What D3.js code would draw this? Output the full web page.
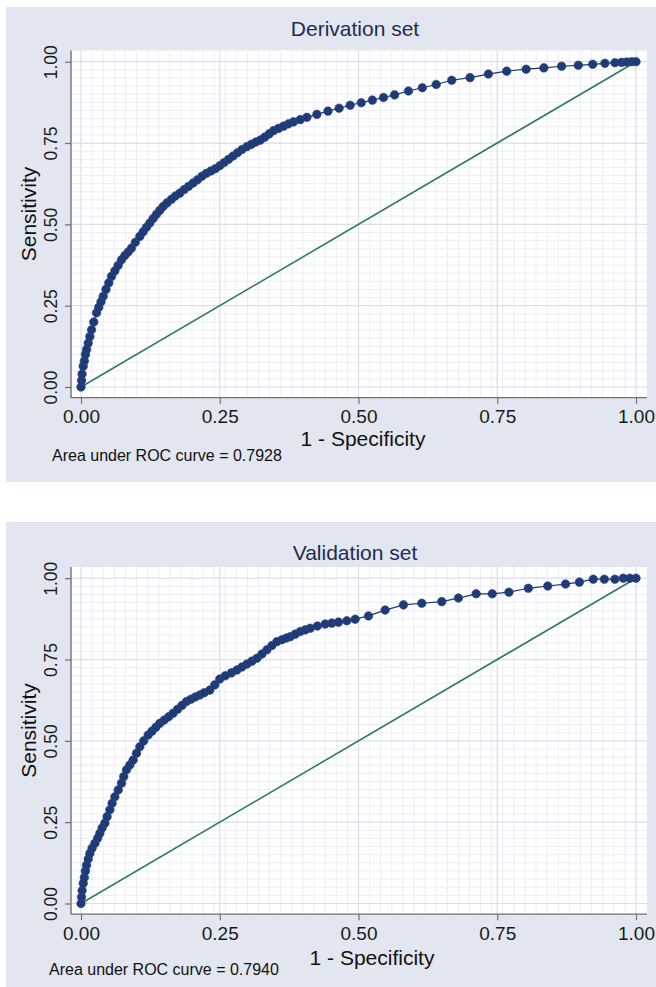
<!DOCTYPE html>
<html>
<head>
<meta charset="utf-8">
<script src="https://cdn.jsdelivr.net/npm/d3@7"></script>
<style>
	body { margin: 0; background: #fff; }
	svg { display: block; font-family: 'Liberation Sans', Arial, Helvetica, sans-serif; }
</style>
</head>
<body>
<div id="chart"></div>
<script>
const panelTitles = ['Derivation set', 'Validation set'];
const aucValues = ['0.7928', '0.7940'];
const tickValues = [0, 0.25, 0.5, 0.75, 1];
const tickLabels = ['0.00', '0.25', '0.50', '0.75', '1.00'];
const xTitle = '1 - Specificity';
const yTitle = 'Sensitivity';

// points (1 - specificity, sensitivity)
const derivationFpr = [0, 0.001, 0.002, 0.004, 0.006, 0.008, 0.010, 0.013, 0.016, 0.019, 0.023, 0.028, 0.032, 0.036, 0.040,
	0.045, 0.050, 0.055, 0.061, 0.067, 0.073, 0.079, 0.085, 0.091, 0.098, 0.106, 0.112, 0.118, 0.124, 0.130,
	0.136, 0.142, 0.148, 0.155, 0.163, 0.170, 0.178, 0.186, 0.194, 0.202, 0.210, 0.218, 0.226, 0.234, 0.242,
	0.250, 0.258, 0.266, 0.274, 0.282, 0.290, 0.299, 0.307, 0.315, 0.323, 0.331, 0.339, 0.347, 0.356, 0.365,
	0.374, 0.383, 0.395, 0.407, 0.425, 0.445, 0.465, 0.485, 0.505, 0.525, 0.545, 0.565, 0.590, 0.615, 0.640,
	0.668, 0.701, 0.734, 0.767, 0.802, 0.834, 0.866, 0.896, 0.922, 0.944, 0.962, 0.974, 0.983, 0.992, 1.0];
const derivationTpr = [0, 0.020, 0.040, 0.064, 0.080, 0.100, 0.115, 0.135, 0.155, 0.176, 0.200, 0.228, 0.245, 0.262, 0.279,
	0.300, 0.320, 0.340, 0.357, 0.374, 0.391, 0.404, 0.415, 0.427, 0.445, 0.463, 0.477, 0.491, 0.504, 0.518,
	0.531, 0.543, 0.555, 0.566, 0.577, 0.587, 0.596, 0.607, 0.617, 0.627, 0.637, 0.648, 0.657, 0.664, 0.671,
	0.680, 0.690, 0.700, 0.710, 0.720, 0.730, 0.739, 0.746, 0.753, 0.759, 0.768, 0.778, 0.788, 0.795, 0.802,
	0.809, 0.815, 0.822, 0.829, 0.838, 0.848, 0.857, 0.866, 0.874, 0.882, 0.890, 0.898, 0.910, 0.920, 0.930,
	0.943, 0.951, 0.962, 0.971, 0.977, 0.981, 0.986, 0.989, 0.992, 0.995, 0.997, 0.998, 0.999, 1.0, 1.0];

// points
const validationFpr = [0, 0.001, 0.002, 0.004, 0.006, 0.008, 0.010, 0.013, 0.016, 0.020, 0.025, 0.030, 0.034, 0.038, 0.043,
	0.047, 0.052, 0.056, 0.061, 0.067, 0.073, 0.077, 0.082, 0.088, 0.094, 0.100, 0.106, 0.113, 0.121, 0.128,
	0.135, 0.142, 0.150, 0.158, 0.166, 0.174, 0.182, 0.190, 0.198, 0.206, 0.214, 0.222, 0.232, 0.241, 0.250,
	0.260, 0.271, 0.281, 0.290, 0.299, 0.308, 0.317, 0.326, 0.335, 0.344, 0.353, 0.362, 0.370, 0.377, 0.386,
	0.395, 0.404, 0.413, 0.426, 0.440, 0.452, 0.464, 0.479, 0.494, 0.518, 0.548, 0.581, 0.614, 0.650, 0.680,
	0.712, 0.741, 0.771, 0.806, 0.841, 0.873, 0.898, 0.923, 0.943, 0.962, 0.977, 0.989, 1.0];
const validationTpr = [0, 0.020, 0.040, 0.062, 0.080, 0.100, 0.118, 0.137, 0.154, 0.170, 0.185, 0.201, 0.216, 0.232, 0.247,
	0.267, 0.288, 0.308, 0.328, 0.349, 0.370, 0.390, 0.411, 0.426, 0.441, 0.462, 0.482, 0.500, 0.518, 0.530,
	0.542, 0.554, 0.564, 0.574, 0.585, 0.597, 0.609, 0.621, 0.628, 0.635, 0.641, 0.648, 0.656, 0.672, 0.690,
	0.700, 0.709, 0.718, 0.727, 0.736, 0.745, 0.754, 0.767, 0.780, 0.793, 0.805, 0.811, 0.816, 0.820, 0.828,
	0.836, 0.841, 0.846, 0.853, 0.859, 0.862, 0.865, 0.869, 0.874, 0.884, 0.902, 0.918, 0.923, 0.928, 0.939,
	0.952, 0.952, 0.957, 0.969, 0.976, 0.982, 0.988, 0.997, 0.997, 0.997, 1.0, 1.0, 1.0];

const width = 656;
const height = 987;

const svg = d3
	.select('#chart')
	.append('svg')
	.attr('width', width)
	.attr('height', height)
	.attr('viewBox', `0 0 ${width} ${height}`);

// per panel placement, everything inside is relative to "top"
const panels = [
	{ top: 7, bgTop: 7, bgHeight: 475, titleY: 29, xTitleX: 363, xTitleY: 439, aucX: 52, aucY: 454, fpr: derivationFpr, tpr: derivationTpr },
	{ top: 523.5, bgTop: 522, bgHeight: 470, titleY: 36, xTitleX: 372, xTitleY: 441, aucX: 49, aucY: 451.5, fpr: validationFpr, tpr: validationTpr }
];

// plot region, in panel coordinates
const plot = { left: 72, right: 647, top: 43.5, bottom: 390.7 };

const xScale = d3.scaleLinear().domain([ 0, 1 ]).range([ 81, 636 ]);
const yScale = d3.scaleLinear().domain([ 0, 1 ]).range([ 380, 54.7 ]);

const minorX = d3.range(0, 1.0001, 0.02).filter((v) => !tickValues.some((t) => Math.abs(t - v) < 1e-6));
const minorY = d3.range(0, 1.0001, 0.025).filter((v) => !tickValues.some((t) => Math.abs(t - v) < 1e-6));

panels.forEach((p, idx) => {
	svg
		.append('rect')
		.attr('x', 6)
		.attr('y', p.bgTop)
		.attr('width', width - 6)
		.attr('height', p.bgHeight)
		.style('fill', '#e2e6f0');

	const g = svg.append('g').attr('transform', `translate(0, ${p.top})`);

	// white plot region
	g
		.append('rect')
		.attr('x', plot.left)
		.attr('y', plot.top)
		.attr('width', plot.right - plot.left)
		.attr('height', plot.bottom - plot.top)
		.style('fill', '#ffffff');

	// minor grid
	g
		.selectAll('.minor-x')
		.data(minorX)
		.enter()
		.append('line')
		.attr('x1', (d) => xScale(d))
		.attr('x2', (d) => xScale(d))
		.attr('y1', plot.top)
		.attr('y2', plot.bottom)
		.style('stroke', '#eceef6')
		.style('stroke-width', 1);

	g
		.selectAll('.minor-y')
		.data(minorY)
		.enter()
		.append('line')
		.attr('x1', plot.left)
		.attr('x2', plot.right)
		.attr('y1', (d) => yScale(d))
		.attr('y2', (d) => yScale(d))
		.style('stroke', '#eceef6')
		.style('stroke-width', 1);

	// major grid
	g
		.selectAll('.major-x')
		.data(tickValues)
		.enter()
		.append('line')
		.attr('x1', (d) => xScale(d))
		.attr('x2', (d) => xScale(d))
		.attr('y1', plot.top)
		.attr('y2', plot.bottom)
		.style('stroke', '#d9ddec')
		.style('stroke-width', 1.2);

	g
		.selectAll('.major-y')
		.data(tickValues)
		.enter()
		.append('line')
		.attr('x1', plot.left)
		.attr('x2', plot.right)
		.attr('y1', (d) => yScale(d))
		.attr('y2', (d) => yScale(d))
		.style('stroke', '#d9ddec')
		.style('stroke-width', 1.2);

	// reference diagonal
	g
		.append('line')
		.attr('x1', xScale(0))
		.attr('y1', yScale(0))
		.attr('x2', xScale(1))
		.attr('y2', yScale(1))
		.style('stroke', '#2f7b5c')
		.style('stroke-width', 1.6);

	const points = p.fpr.map((d, i) => ({ x: d, y: p.tpr[i] }));
	const line = d3.line().x((d) => xScale(d.x)).y((d) => yScale(d.y));

	g
		.append('path')
		.datum(points)
		.attr('d', line)
		.style('fill', 'none')
		.style('stroke', '#23345f')
		.style('stroke-width', 1.2);

	g
		.selectAll('.marker')
		.data(points)
		.enter()
		.append('circle')
		.attr('cx', (d) => xScale(d.x))
		.attr('cy', (d) => yScale(d.y))
		.attr('r', 4.3)
		.style('fill', '#1f3b77')
		.style('stroke', '#2c4782')
		.style('stroke-width', 0.6);

	// axes
	const xAxis = d3
		.axisBottom(xScale)
		.tickValues(tickValues)
		.tickFormat((d, i) => tickLabels[i])
		.tickSize(6)
		.tickPadding(6);

	const xAxisG = g.append('g').attr('transform', `translate(0, ${plot.bottom})`).call(xAxis);
	xAxisG.select('.domain').remove();
	xAxisG.selectAll('line').style('stroke', '#6f6f6f').style('stroke-width', 1.2);
	xAxisG.selectAll('text').style('font-size', '19px').style('fill', '#1a1a1a').style('font-family', 'inherit');

	const yAxis = d3
		.axisLeft(yScale)
		.tickValues(tickValues)
		.tickFormat((d, i) => tickLabels[i])
		.tickSize(6);

	const yAxisG = g.append('g').attr('transform', `translate(${plot.left - 1}, 0)`).call(yAxis);
	yAxisG.select('.domain').remove();
	yAxisG.selectAll('line').style('stroke', '#6f6f6f').style('stroke-width', 1.2);
	yAxisG
		.selectAll('text')
		.attr('transform', 'rotate(-90)')
		.attr('x', 0)
		.attr('y', -14)
		.attr('dy', 0)
		.attr('text-anchor', 'middle')
		.style('font-size', '17.5px')
		.style('fill', '#1a1a1a')
		.style('font-family', 'inherit');

	// axis lines run along the whole plot region
	g
		.append('line')
		.attr('x1', plot.left - 1)
		.attr('x2', plot.left - 1)
		.attr('y1', plot.top)
		.attr('y2', plot.bottom)
		.style('stroke', '#6f6f6f')
		.style('stroke-width', 1.3);

	g
		.append('line')
		.attr('x1', plot.left - 1)
		.attr('x2', plot.right)
		.attr('y1', plot.bottom)
		.attr('y2', plot.bottom)
		.style('stroke', '#6f6f6f')
		.style('stroke-width', 1.3);

	// titles
	g
		.append('text')
		.attr('x', 355)
		.attr('y', p.titleY)
		.attr('text-anchor', 'middle')
		.style('font-size', '21px')
		.style('fill', '#1e2d50')
		.text(panelTitles[idx]);

	g
		.append('text')
		.attr('x', p.xTitleX)
		.attr('y', p.xTitleY)
		.attr('text-anchor', 'middle')
		.style('font-size', '21px')
		.style('fill', '#111')
		.text(xTitle);

	g
		.append('text')
		.attr('transform', `translate(36, 207) rotate(-90)`)
		.attr('text-anchor', 'middle')
		.style('font-size', '21px')
		.style('fill', '#111')
		.text(yTitle);

	g
		.append('text')
		.attr('x', p.aucX)
		.attr('y', p.aucY)
		.style('font-size', '16px')
		.style('fill', '#111')
		.text(`Area under ROC curve = ${aucValues[idx]}`);
});
</script>
</body>
</html>
